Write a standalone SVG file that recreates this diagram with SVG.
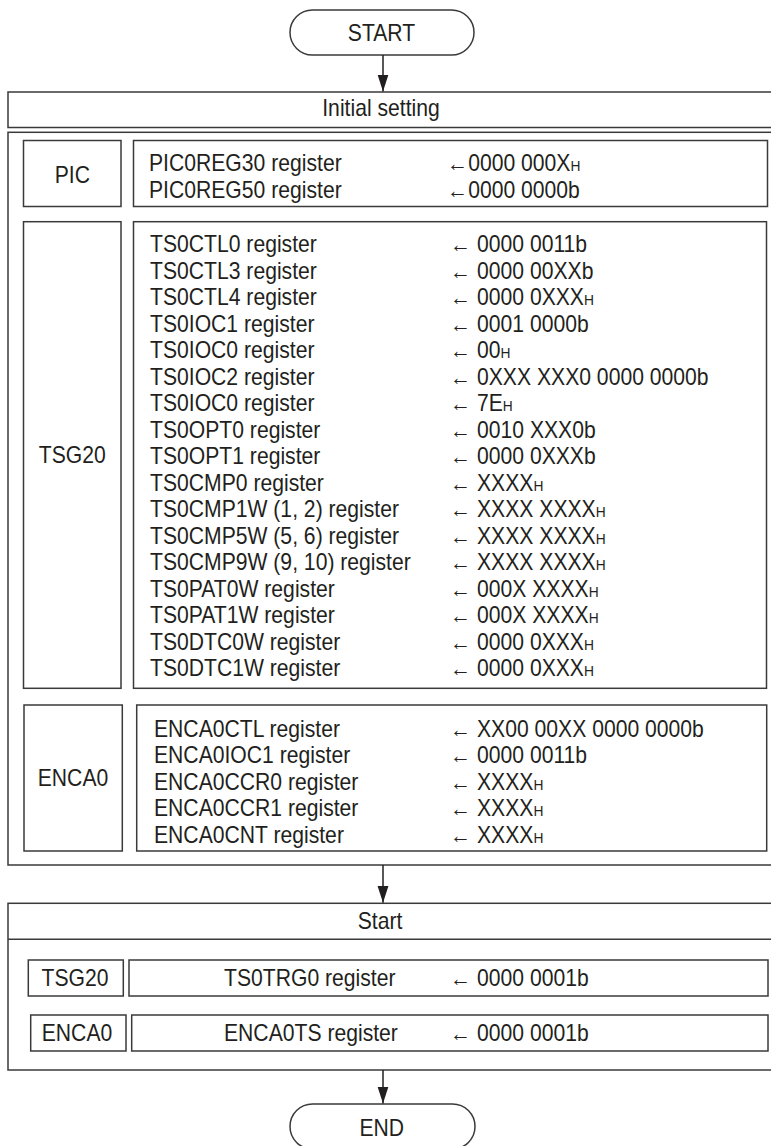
<svg xmlns="http://www.w3.org/2000/svg" width="771" height="1146" viewBox="0 0 771 1146">
<style>
.b{fill:#fff;stroke:#3a3a3a;stroke-width:1.5}
.t{font-family:"Liberation Sans",Arial,sans-serif;font-size:23px;fill:#231f20}
.c{text-anchor:middle}
.h{font-size:15px}
.cn{stroke:#231f20;stroke-width:1.5;fill:none}
</style>
<defs>
<marker id="ah" markerUnits="userSpaceOnUse" markerWidth="12" markerHeight="18" refX="5.5" refY="17" orient="auto-start-reverse" viewBox="0 0 11 18">
<path d="M0,0 L11,0 L5.5,17 Z" fill="#231f20" transform="rotate(0)"/>
</marker>
<marker id="ad" markerUnits="userSpaceOnUse" markerWidth="18" markerHeight="12" refX="17" refY="5.5" orient="auto" viewBox="0 0 18 11">
<path d="M0,0 L17,5.5 L0,11 Z" fill="#231f20"/>
</marker>
</defs>
<g id="start"><rect class="b" x="290" y="10" width="184" height="45" rx="22.5"/><text class="t c" transform="translate(381.5,40.7) scale(0.92,1)">START</text></g>
<g id="initial-setting"><rect class="b" x="8" y="92" width="780" height="35.5"/><text class="t c" transform="translate(381,116) scale(0.92,1)">Initial setting</text></g>
<g id="initial-block"><rect class="b" x="8" y="132.3" width="780" height="732.7"/></g>
<g id="pic">
<rect class="b" x="23.5" y="140.5" width="97.5" height="66"/>
<text class="t c" transform="translate(72.3,183.3) scale(0.92,1)">PIC</text>
<rect class="b" x="133.5" y="140.5" width="634" height="66"/>
<text class="t" transform="translate(149,171) scale(0.92,1)">PIC0REG30 register</text>
<text class="t" transform="translate(447,171) scale(0.92,1)">←0000 000X<tspan class="h">H</tspan></text>
<text class="t" transform="translate(149,197.5) scale(0.92,1)">PIC0REG50 register</text>
<text class="t" transform="translate(447,197.5) scale(0.92,1)">←0000 0000b</text>
</g>
<g id="tsg20">
<rect class="b" x="23.5" y="221.7" width="97.5" height="466.6"/>
<text class="t c" transform="translate(72.3,463) scale(0.92,1)">TSG20</text>
<rect class="b" x="133.5" y="221.7" width="633" height="466.6"/>
<text class="t" transform="translate(150,252.3) scale(0.92,1)">TS0CTL0 register</text>
<text class="t" transform="translate(450,252.3) scale(0.92,1)">← 0000 0011b</text>
<text class="t" transform="translate(150,278.8) scale(0.92,1)">TS0CTL3 register</text>
<text class="t" transform="translate(450,278.8) scale(0.92,1)">← 0000 00XXb</text>
<text class="t" transform="translate(150,305.3) scale(0.92,1)">TS0CTL4 register</text>
<text class="t" transform="translate(450,305.3) scale(0.92,1)">← 0000 0XXX<tspan class="h">H</tspan></text>
<text class="t" transform="translate(150,331.8) scale(0.92,1)">TS0IOC1 register</text>
<text class="t" transform="translate(450,331.8) scale(0.92,1)">← 0001 0000b</text>
<text class="t" transform="translate(150,358.3) scale(0.92,1)">TS0IOC0 register</text>
<text class="t" transform="translate(450,358.3) scale(0.92,1)">← 00<tspan class="h">H</tspan></text>
<text class="t" transform="translate(150,384.8) scale(0.92,1)">TS0IOC2 register</text>
<text class="t" transform="translate(450,384.8) scale(0.92,1)">← 0XXX XXX0 0000 0000b</text>
<text class="t" transform="translate(150,411.3) scale(0.92,1)">TS0IOC0 register</text>
<text class="t" transform="translate(450,411.3) scale(0.92,1)">← 7E<tspan class="h">H</tspan></text>
<text class="t" transform="translate(150,437.8) scale(0.92,1)">TS0OPT0 register</text>
<text class="t" transform="translate(450,437.8) scale(0.92,1)">← 0010 XXX0b</text>
<text class="t" transform="translate(150,464.3) scale(0.92,1)">TS0OPT1 register</text>
<text class="t" transform="translate(450,464.3) scale(0.92,1)">← 0000 0XXXb</text>
<text class="t" transform="translate(150,490.8) scale(0.92,1)">TS0CMP0 register</text>
<text class="t" transform="translate(450,490.8) scale(0.92,1)">← XXXX<tspan class="h">H</tspan></text>
<text class="t" transform="translate(150,517.3) scale(0.92,1)">TS0CMP1W (1, 2) register</text>
<text class="t" transform="translate(450,517.3) scale(0.92,1)">← XXXX XXXX<tspan class="h">H</tspan></text>
<text class="t" transform="translate(150,543.8) scale(0.92,1)">TS0CMP5W (5, 6) register</text>
<text class="t" transform="translate(450,543.8) scale(0.92,1)">← XXXX XXXX<tspan class="h">H</tspan></text>
<text class="t" transform="translate(150,570.3) scale(0.92,1)">TS0CMP9W (9, 10) register</text>
<text class="t" transform="translate(450,570.3) scale(0.92,1)">← XXXX XXXX<tspan class="h">H</tspan></text>
<text class="t" transform="translate(150,596.8) scale(0.92,1)">TS0PAT0W register</text>
<text class="t" transform="translate(450,596.8) scale(0.92,1)">← 000X XXXX<tspan class="h">H</tspan></text>
<text class="t" transform="translate(150,623.3) scale(0.92,1)">TS0PAT1W register</text>
<text class="t" transform="translate(450,623.3) scale(0.92,1)">← 000X XXXX<tspan class="h">H</tspan></text>
<text class="t" transform="translate(150,649.8) scale(0.92,1)">TS0DTC0W register</text>
<text class="t" transform="translate(450,649.8) scale(0.92,1)">← 0000 0XXX<tspan class="h">H</tspan></text>
<text class="t" transform="translate(150,676.3) scale(0.92,1)">TS0DTC1W register</text>
<text class="t" transform="translate(450,676.3) scale(0.92,1)">← 0000 0XXX<tspan class="h">H</tspan></text>
</g>
<g id="enca0">
<rect class="b" x="24" y="705" width="98.3" height="146"/>
<text class="t c" transform="translate(73,786) scale(0.92,1)">ENCA0</text>
<rect class="b" x="136.7" y="705" width="630" height="146"/>
<text class="t" transform="translate(154,736.7) scale(0.92,1)">ENCA0CTL register</text>
<text class="t" transform="translate(450,736.7) scale(0.92,1)">← XX00 00XX 0000 0000b</text>
<text class="t" transform="translate(154,763.2) scale(0.92,1)">ENCA0IOC1 register</text>
<text class="t" transform="translate(450,763.2) scale(0.92,1)">← 0000 0011b</text>
<text class="t" transform="translate(154,789.7) scale(0.92,1)">ENCA0CCR0 register</text>
<text class="t" transform="translate(450,789.7) scale(0.92,1)">← XXXX<tspan class="h">H</tspan></text>
<text class="t" transform="translate(154,816.2) scale(0.92,1)">ENCA0CCR1 register</text>
<text class="t" transform="translate(450,816.2) scale(0.92,1)">← XXXX<tspan class="h">H</tspan></text>
<text class="t" transform="translate(154,842.7) scale(0.92,1)">ENCA0CNT register</text>
<text class="t" transform="translate(450,842.7) scale(0.92,1)">← XXXX<tspan class="h">H</tspan></text>
</g>
<g id="start-block">
<rect class="b" x="8" y="903.3" width="780" height="166.7"/>
<line x1="8" y1="939.3" x2="771" y2="939.3" stroke="#3a3a3a" stroke-width="1.5"/>
<text class="t c" transform="translate(380,929) scale(0.92,1)">Start</text>
</g>
<g id="start-tsg20">
<rect class="b" x="28.3" y="960" width="95" height="36"/>
<text class="t c" transform="translate(75,986) scale(0.92,1)">TSG20</text>
<rect class="b" x="129" y="960" width="639" height="36"/>
<text class="t" transform="translate(224,986) scale(0.92,1)">TS0TRG0 register</text>
<text class="t" transform="translate(450,986) scale(0.92,1)">← 0000 0001b</text>
</g>
<g id="start-enca0">
<rect class="b" x="30.7" y="1015" width="95.3" height="36"/>
<text class="t c" transform="translate(77,1041) scale(0.92,1)">ENCA0</text>
<rect class="b" x="131.7" y="1015" width="636.3" height="36"/>
<text class="t" transform="translate(224,1041) scale(0.92,1)">ENCA0TS register</text>
<text class="t" transform="translate(450,1041) scale(0.92,1)">← 0000 0001b</text>
</g>
<g id="end"><rect class="b" x="290" y="1104" width="185" height="45" rx="22.5"/><text class="t c" transform="translate(381.7,1136) scale(0.92,1)">END</text></g>
<g id="connectors">
<line class="cn" x1="383" y1="55" x2="383" y2="91.5" marker-end="url(#ad)"/>
<line class="cn" x1="383" y1="865" x2="383" y2="902.8" marker-end="url(#ad)"/>
<line class="cn" x1="383" y1="1070" x2="383" y2="1103.5" marker-end="url(#ad)"/>
</g>
</svg>
